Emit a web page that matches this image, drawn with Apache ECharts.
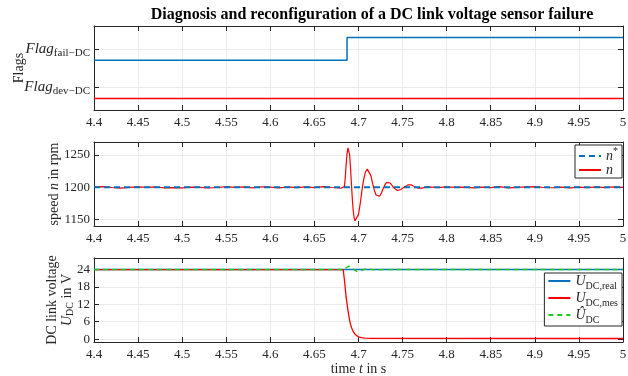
<!DOCTYPE html>
<html>
<head>
<meta charset="utf-8">
<script src="https://cdn.jsdelivr.net/npm/echarts@6/dist/echarts.min.js"></script>
<style>
  html, body { margin: 0; padding: 0; background: #fff; }
  #chart { width: 628px; height: 376px; }
</style>
</head>
<body>
<div id="chart"></div>
<script>
// time axis (s)
const T_MIN = 4.4
const T_MAX = 5
const T_STEP = 0.05

// top panel: flags (plotted with offsets around their tick levels)
const flagTicks = [0, 1]
const flagFail = [[4.4, 0.7], [4.687, 1.3], [5.0, 1.3]]
const flagDev = [[4.4, -0.3], [5.0, -0.3]]

// middle panel: speed in rpm
const speedTicks = [1150, 1200, 1250]
const speedRef = [[4.4, 1200], [5.0, 1200]]
const speedMeas = [
  [4.40, 1200.2], [4.41, 1200.9], [4.42, 1199.6], [4.43, 1198.6], [4.44, 1199.8],
  [4.45, 1200.6], [4.46, 1199.9], [4.47, 1200.4], [4.48, 1198.9], [4.49, 1199.3],
  [4.50, 1199.0], [4.51, 1200.3], [4.52, 1199.7], [4.53, 1198.8], [4.54, 1199.6],
  [4.55, 1200.8], [4.56, 1199.9], [4.57, 1200.5], [4.58, 1199.1], [4.59, 1200.7],
  [4.60, 1200.2], [4.61, 1198.9], [4.62, 1200.4], [4.63, 1199.3], [4.64, 1200.6],
  [4.65, 1199.4], [4.66, 1200.9], [4.67, 1199.6], [4.675, 1199.2], [4.680, 1198.4],
  [4.682, 1198.6], [4.684, 1201], [4.685, 1215], [4.686, 1235], [4.687, 1252],
  [4.688, 1261], [4.689, 1262], [4.690, 1250], [4.691, 1228], [4.692, 1205],
  [4.693, 1182], [4.694, 1164], [4.695, 1153], [4.696, 1148], [4.697, 1147],
  [4.698, 1148], [4.700, 1158], [4.702, 1175], [4.704, 1196], [4.706, 1213],
  [4.708, 1224], [4.710, 1228], [4.712, 1226], [4.714, 1218], [4.716, 1206],
  [4.718, 1195], [4.720, 1188], [4.722, 1185], [4.724, 1186], [4.726, 1191],
  [4.728, 1198], [4.730, 1204], [4.732, 1207.5], [4.734, 1208], [4.736, 1206.5],
  [4.738, 1203], [4.740, 1199], [4.742, 1196], [4.744, 1195], [4.746, 1195],
  [4.748, 1196.5], [4.750, 1198.5], [4.752, 1200.5], [4.754, 1202.5], [4.756, 1203.5],
  [4.758, 1204], [4.760, 1203.5], [4.762, 1202], [4.765, 1200], [4.768, 1198.5],
  [4.772, 1198.5], [4.776, 1200], [4.78, 1200.5], [4.79, 1199.4], [4.80, 1200.6],
  [4.81, 1199.7], [4.82, 1200.3], [4.83, 1199.1], [4.84, 1200.2], [4.85, 1199.5],
  [4.86, 1200.8], [4.87, 1199.0], [4.88, 1199.8], [4.89, 1200.4], [4.90, 1200.9],
  [4.91, 1199.6], [4.92, 1199.2], [4.93, 1200.1], [4.94, 1198.9], [4.95, 1200.3],
  [4.96, 1199.4], [4.97, 1200.6], [4.98, 1199.5], [4.99, 1200.4], [5.00, 1199.9]
]

// bottom panel: DC link voltage in V
const voltTicks = [0, 6, 12, 18, 24]
const voltReal = [[4.4, 24], [5.0, 24]]
const voltMeas = [
  [4.4, 24], [4.6826, 24], [4.684, 20.5], [4.686, 14.5], [4.688, 10], [4.690, 6.3],
  [4.692, 4.0], [4.694, 2.6], [4.696, 1.7], [4.698, 1.1], [4.700, 0.75],
  [4.703, 0.5], [4.707, 0.35], [4.715, 0.25], [5.0, 0.2]
]
const voltEst = [
  [4.4, 24], [4.683, 24], [4.686, 24.6], [4.689, 25.2], [4.692, 24.8], [4.695, 24.0],
  [4.698, 23.4], [4.702, 23.5], [4.706, 24.0], [4.710, 24.3], [4.714, 24.1],
  [4.720, 23.9], [4.730, 24.0], [5.0, 24]
]

const FONT = 'Liberation Serif'
const TEXT = '#262626'
const AXIS = '#262626'
const GRID_C = '#ebebeb'
const BLUE = '#0072bd'
const RED = '#ff0000'
const GREEN = '#1fc81f'

const RICH = {
  i: { fontFamily: FONT, fontStyle: 'italic', fontSize: 14, color: TEXT, lineHeight: 20, verticalAlign: 'middle' },
  s: { fontFamily: FONT, fontSize: 10, color: TEXT, lineHeight: 20, verticalAlign: 'bottom' },
  sup: { fontFamily: FONT, fontSize: 10, color: TEXT, lineHeight: 20, verticalAlign: 'top' }
}

// tighter line boxes for the two-line axis name
const NAME_RICH = {
  t: { fontFamily: FONT, fontSize: 14, color: TEXT, lineHeight: 15 },
  i: { fontFamily: FONT, fontStyle: 'italic', fontSize: 14, color: TEXT, lineHeight: 15, verticalAlign: 'middle' },
  s: { fontFamily: FONT, fontSize: 10, color: TEXT, lineHeight: 15, verticalAlign: 'bottom' }
}

const FLAG_RICH = {
  i: { fontFamily: FONT, fontStyle: 'italic', fontSize: 15, color: TEXT, lineHeight: 20, verticalAlign: 'middle' },
  s: { fontFamily: FONT, fontSize: 11, color: TEXT, lineHeight: 20, verticalAlign: 'bottom' }
}

const grids = [26, 142, 258].map(top => ({
  left: 94, right: 5, top: top, height: 84, outerBoundsMode: 'none', containLabel: false
}))

function makeX(gridIndex, extra) {
  const base = {
    type: 'value', gridIndex: gridIndex, min: T_MIN, max: T_MAX, interval: T_STEP,
    axisLine: { onZero: false, lineStyle: { color: AXIS, width: 1 } },
    axisTick: { inside: true, length: 5, lineStyle: { color: AXIS } },
    splitLine: { show: true, lineStyle: { color: GRID_C, width: 1 } },
    nameMoveOverlap: false
  }
  return [
    Object.assign({}, base, {
      position: 'bottom',
      axisLabel: { color: TEXT, fontFamily: FONT, fontSize: 13, margin: 6 }
    }, extra || {}),
    Object.assign({}, base, { position: 'top', axisLabel: { show: false }, splitLine: { show: false } })
  ]
}

function makeY(gridIndex, min, max, ticks, labelOpt, extra) {
  const base = {
    type: 'value', gridIndex: gridIndex, min: min, max: max,
    axisLine: { show: true, onZero: false, lineStyle: { color: AXIS, width: 1 } },
    axisTick: { show: true, inside: true, length: 5, customValues: ticks, lineStyle: { color: AXIS } },
    splitLine: { show: true, lineStyle: { color: GRID_C, width: 1 } },
    nameMoveOverlap: false
  }
  return [
    Object.assign({}, base, {
      position: 'left',
      axisLabel: Object.assign({
        color: TEXT, fontFamily: FONT, fontSize: 13, margin: 4, customValues: ticks,
        formatter: v => String(v)
      }, labelOpt)
    }, extra || {}),
    Object.assign({}, base, { position: 'right', axisLabel: { show: false }, splitLine: { show: false } })
  ]
}

const nameStyle = { color: TEXT, fontFamily: FONT, fontSize: 14, rich: RICH }

const xAxes = [].concat(
  makeX(0),
  makeX(1),
  makeX(2, { name: 'time {i|t} in s', nameLocation: 'middle', nameGap: 17, nameTextStyle: nameStyle })
)

const yAxes = [].concat(
  makeY(0, -0.6, 1.6, flagTicks, {
    formatter: v => v === 1 ? '{i|Flag}{s|fail\u2212DC}' : '{i|Flag}{s|dev\u2212DC}',
    rich: FLAG_RICH
  }, { name: 'Flags', nameLocation: 'middle', nameGap: 68, nameTextStyle: nameStyle }),
  makeY(1, 1140, 1270, speedTicks, {}, {
    name: 'speed {i|n} in rpm', nameLocation: 'middle', nameGap: 30, nameTextStyle: nameStyle
  }),
  makeY(2, -1, 28, voltTicks, {}, {
    name: '{t|DC link voltage}\n{i|U}{s|DC}{t| in V}', nameLocation: 'middle', nameGap: 19,
    nameTextStyle: { color: TEXT, fontFamily: FONT, fontSize: 14, rich: NAME_RICH }
  })
)

function line(name, data, xi, color, width, dash, step) {
  return {
    name: name, type: 'line', xAxisIndex: xi, yAxisIndex: xi, data: data,
    symbol: 'none', step: step || false, silent: true,
    lineStyle: { color: color, width: width, type: dash || 'solid' },
    itemStyle: { color: color }
  }
}

const legendText = {
  nRef: '{i|n}{sup|*}',
  n: '{i|n}',
  uReal: '{i|U}{s|DC,real}',
  uMes: '{i|U}{s|DC,mes}',
  uHat: '{i|\u00db}{s|DC}'
}

const legendBase = {
  orient: 'vertical', right: 6, backgroundColor: '#fff',
  borderColor: AXIS, borderWidth: 1, borderRadius: 0,
  padding: [1, 4, 1, 3], itemGap: 0, itemWidth: 22, itemHeight: 10,
  selectedMode: false,
  itemStyle: { opacity: 0 },
  formatter: name => legendText[name],
  textStyle: { color: TEXT, fontFamily: FONT, fontSize: 14, rich: RICH }
}

const option = {
  animation: false,
  backgroundColor: '#fff',
  title: {
    text: 'Diagnosis and reconfiguration of a DC link voltage sensor failure',
    left: 367, top: 2, textAlign: 'center',
    textStyle: { color: '#000', fontFamily: FONT, fontSize: 16, fontWeight: 'bold' }
  },
  grid: grids,
  xAxis: xAxes,
  yAxis: yAxes,
  legend: [
    Object.assign({}, legendBase, { top: 145, data: ['nRef', 'n'] }),
    Object.assign({}, legendBase, { top: 273, data: ['uReal', 'uMes', 'uHat'] })
  ],
  series: [
    line('flagFail', flagFail, 0, BLUE, 1.5, null, 'end'),
    line('flagDev', flagDev, 0, RED, 1.5),
    line('n', speedMeas, 2, RED, 1.2),
    line('nRef', speedRef, 2, BLUE, 2, [6, 4]),
    line('uReal', voltReal, 4, BLUE, 1.5),
    line('uMes', voltMeas, 4, RED, 1.3),
    line('uHat', voltEst, 4, GREEN, 1.5, [5, 4])
  ]
}

const chart = echarts.init(document.getElementById('chart'))
chart.setOption(option)
</script>
</body>
</html>
